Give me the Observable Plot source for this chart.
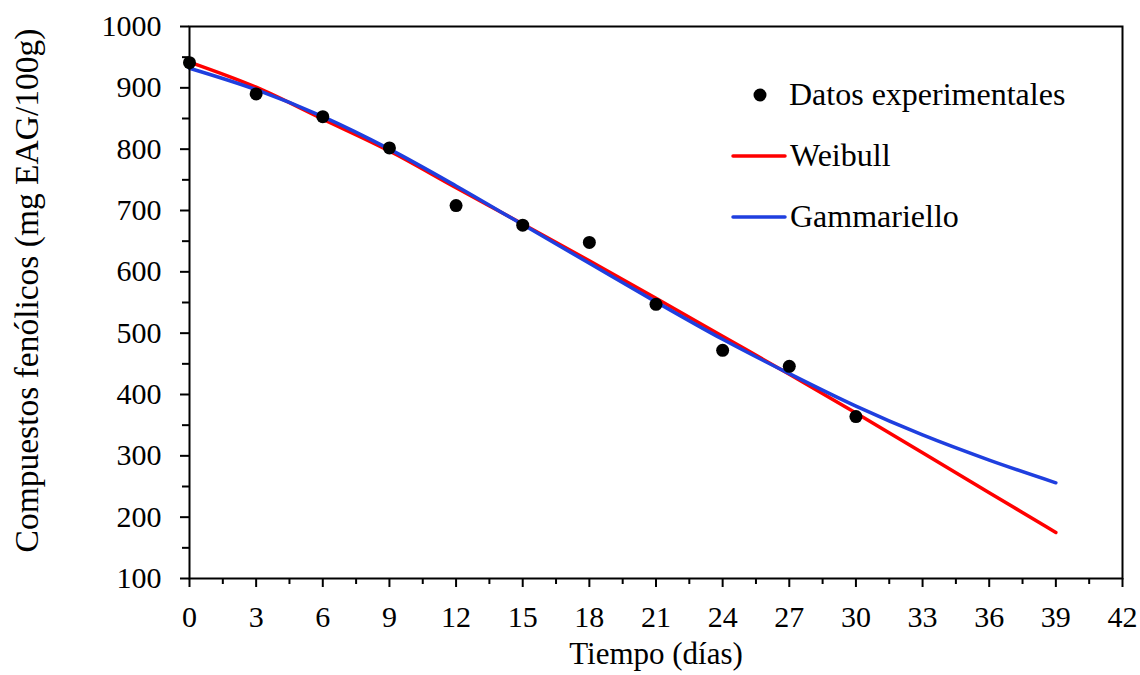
<!DOCTYPE html>
<html>
<head>
<meta charset="utf-8">
<script src="https://cdn.jsdelivr.net/npm/d3@7"></script>
<script src="https://cdn.jsdelivr.net/npm/@observablehq/plot@0.6"></script>
<style>
  html, body { margin: 0; padding: 0; background: #fff; }
  #chart { width: 1140px; height: 675px; }
  #chart svg, #chart svg text { font-family: "Liberation Serif", "Times New Roman", Times, serif !important; }
</style>
</head>
<body>
<div id="chart"></div>
<script>
// ---- data ----
const days = [0, 3, 6, 9, 12, 15, 18, 21, 24, 27, 30];
const experimental = [941, 890, 853, 802, 708, 676, 648, 547, 472, 446, 364];

const curveDays = [0, 3, 6, 9, 12, 15, 18, 21, 24, 27, 30, 33, 36, 39];
const weibull = [942, 901, 849, 797, 737, 678, 618, 557, 495, 433, 370, 305, 240, 175];
const gammariello = [932, 897, 853, 800, 740, 677, 614, 551, 490, 434, 381, 334, 293, 256];

const xMajorTicks = [0, 3, 6, 9, 12, 15, 18, 21, 24, 27, 30, 33, 36, 39, 42];
const xMinorTicks = [1.5, 4.5, 7.5, 10.5, 13.5, 16.5, 19.5, 22.5, 25.5, 28.5, 31.5, 34.5, 37.5, 40.5];
const yMajorTicks = [100, 200, 300, 400, 500, 600, 700, 800, 900, 1000];
const yMinorTicks = [150, 250, 350, 450, 550, 650, 750, 850, 950];

const legendLabels = ["Datos experimentales", "Weibull", "Gammariello"];
const xTitle = "Tiempo (días)";
const yTitle = "Compuestos fenólicos (mg EAG/100g)";

// ---- build tables ----
const points = days.map((d, i) => ({day: d, value: experimental[i]}));
const wLine = curveDays.map((d, i) => ({day: d, value: weibull[i]}));
const gLine = curveDays.map((d, i) => ({day: d, value: gammariello[i]}));

const RED = "#ff0000";
const BLUE = "#1f3fdf";
const FONT = "'Liberation Serif', 'Times New Roman', Times, serif";
const FS = 30;

const svg = Plot.plot({
  width: 1140,
  height: 675,
  marginLeft: 189,
  marginRight: 18,
  marginTop: 26,
  marginBottom: 97,
  x: {domain: [0, 42]},
  y: {domain: [100, 1000]},
  style: {fontFamily: FONT, fontSize: FS + "px", color: "black", background: "white", overflow: "visible"},
  marks: [
    Plot.axisX({ticks: xMinorTicks, tickSize: 6, tickFormat: () => "", label: null, strokeWidth: 2}),
    Plot.axisX({ticks: xMajorTicks, tickSize: 9, tickPadding: 18, tickFormat: d => String(d), label: null, strokeWidth: 2, fontSize: FS, fontFamily: FONT}),
    Plot.axisY({ticks: yMinorTicks, tickSize: 7, tickFormat: () => "", label: null, strokeWidth: 2}),
    Plot.axisY({ticks: yMajorTicks, tickSize: 9, tickPadding: 19, tickFormat: d => String(d), label: null, strokeWidth: 2, fontSize: FS, fontFamily: FONT}),
    Plot.line(wLine, {x: "day", y: "value", stroke: RED, strokeWidth: 3.5, curve: "monotone-x", strokeLinecap: "round"}),
    Plot.line(gLine, {x: "day", y: "value", stroke: BLUE, strokeWidth: 3.5, curve: "monotone-x", strokeLinecap: "round"}),
    Plot.dot(points, {x: "day", y: "value", r: 6.5, fill: "black", stroke: "none"}),
    Plot.frame({stroke: "black", strokeWidth: 2}),
    Plot.text([xTitle], {frameAnchor: "bottom", dy: 76, lineAnchor: "middle", textAnchor: "middle", fontSize: 31, fontFamily: FONT, fill: "black"}),
    Plot.text([yTitle], {frameAnchor: "left", dx: -162, dy: -12, rotate: -90, lineAnchor: "middle", textAnchor: "middle", fontSize: 33.5, fontFamily: FONT, fill: "black"})
  ]
});

// ---- legend (inside plot area, upper right) ----
const lg = d3.select(svg).append("g")
  .style("font-family", FONT)
  .style("font-size", "32px")
  .attr("text-anchor", "start");
const legendItems = [
  {label: legendLabels[0], kind: "dot", color: "black"},
  {label: legendLabels[1], kind: "line", color: RED},
  {label: legendLabels[2], kind: "line", color: BLUE}
];
legendItems.forEach((it, i) => {
  const y = 95 + i * 61;
  if (it.kind === "dot") {
    lg.append("circle").attr("cx", 760).attr("cy", y).attr("r", 6.5).attr("fill", it.color);
  } else {
    lg.append("line").attr("x1", 733).attr("x2", 785).attr("y1", y).attr("y2", y)
      .attr("stroke", it.color).attr("stroke-width", 3.5).attr("stroke-linecap", "round");
  }
  lg.append("text").attr("x", it.kind === "dot" ? 789 : 790).attr("y", y).attr("dy", "0.32em")
    .attr("text-anchor", "start").attr("fill", "black")
    .style("font-family", FONT).style("font-size", "32px").text(it.label);
});

document.getElementById("chart").appendChild(svg);
</script>
</body>
</html>
